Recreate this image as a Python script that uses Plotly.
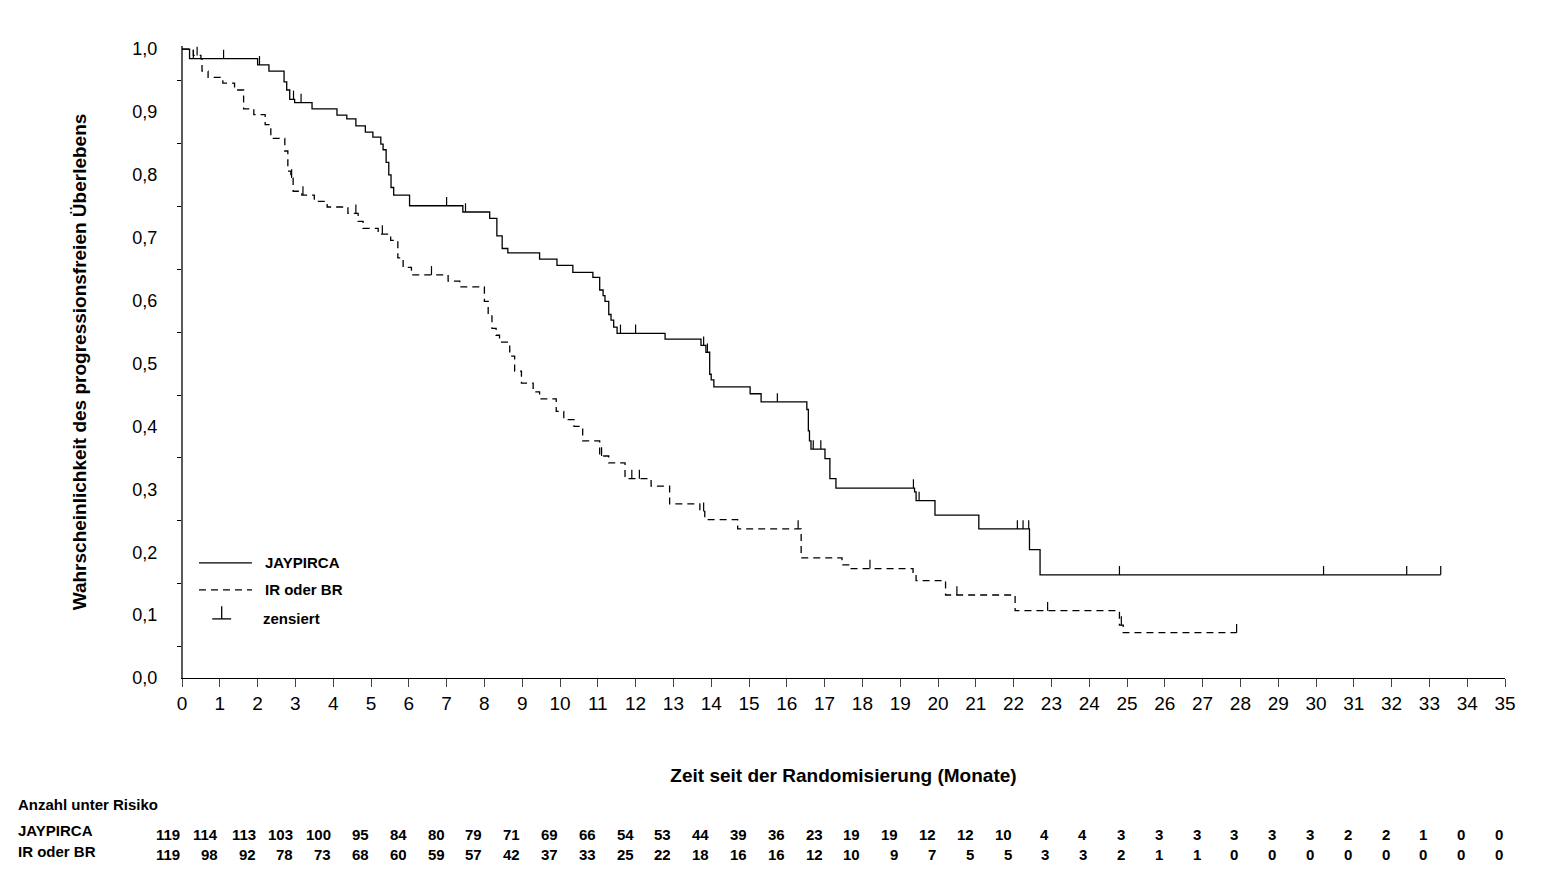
import plotly.graph_objects as go
import numpy as np

months = list(range(0, 36))
jay_t = [0, 0.2, 2.0, 2.3, 2.7, 2.77, 2.85, 2.98, 3.44, 4.1, 4.36, 4.6, 4.85, 5.05, 5.26, 5.32, 5.4, 5.47, 5.53, 5.6, 6.02, 7.43, 8.14, 8.33, 8.47, 8.62,
         9.46, 9.92, 10.34, 10.87, 11.05, 11.14, 11.19, 11.29, 11.35, 11.42, 11.51, 12.78, 13.73, 13.86, 13.96, 14.0, 14.07, 15.03, 15.32,
         16.53, 16.57, 16.6, 16.64, 17.01, 17.14, 17.3, 19.38, 19.42, 19.92, 21.08, 22.42, 22.7, 33.3]
jay_s = [1.0, 0.985, 0.975, 0.965, 0.948, 0.935, 0.92, 0.915, 0.905, 0.895, 0.889, 0.878, 0.868, 0.86, 0.849, 0.84, 0.82, 0.80, 0.78, 0.768, 0.751, 0.741, 0.731, 0.703, 0.683, 0.676,
         0.666, 0.656, 0.645, 0.637, 0.617, 0.608, 0.599, 0.578, 0.569, 0.558, 0.548, 0.539, 0.529, 0.518, 0.483, 0.474, 0.463, 0.452, 0.439,
         0.427, 0.393, 0.377, 0.364, 0.349, 0.317, 0.302, 0.296, 0.282, 0.259, 0.237, 0.204, 0.164, 0.164]
jay_cens = [0.3, 1.1, 2.05, 2.95, 3.15, 7.0, 7.5, 11.6, 12.0, 13.8, 13.9, 15.75, 16.7, 16.9, 19.35, 19.5, 22.1, 22.25, 22.4, 24.8, 30.2, 32.4, 33.3]

ir_t = [0, 0.3, 0.5, 0.53, 0.69, 1.08, 1.39, 1.63, 1.9, 2.2, 2.35, 2.72, 2.8, 2.88, 2.94, 3.17, 3.5, 3.84, 4.39, 4.66, 4.79, 5.19, 5.52, 5.71, 5.85, 6.07,
        7.04, 7.35, 8.0, 8.1, 8.2, 8.31, 8.4, 8.67, 8.8, 8.98, 9.29, 9.46, 9.9, 10.1, 10.37, 10.6, 11.05, 11.29, 11.72, 12.41, 12.9, 13.7, 13.83, 14.7,
        16.38, 17.46, 17.66, 19.34, 19.42, 20.2, 22.04, 24.8, 24.9, 27.9]
ir_s = [1.0, 0.99, 0.985, 0.965, 0.955, 0.946, 0.935, 0.905, 0.896, 0.88, 0.858, 0.838, 0.806, 0.795, 0.774, 0.768, 0.758, 0.749, 0.739, 0.726, 0.715, 0.706, 0.696, 0.668, 0.653, 0.641,
        0.631, 0.622, 0.599, 0.578, 0.556, 0.545, 0.534, 0.512, 0.488, 0.469, 0.455, 0.444, 0.424, 0.411, 0.40, 0.377, 0.353, 0.342, 0.317, 0.305, 0.277, 0.265, 0.252, 0.237,
        0.191, 0.18, 0.174, 0.164, 0.155, 0.132, 0.107, 0.084, 0.072, 0.072]
ir_cens = [0.4, 2.9, 3.2, 4.6, 5.3, 6.6, 11.1, 11.9, 12.1, 13.8, 16.3, 18.2, 20.5, 22.9, 24.85, 27.9]

risk_jay = [119, 114, 113, 103, 100, 95, 84, 80, 79, 71, 69, 66, 54, 53, 44, 39, 36, 23, 19, 19, 12, 12, 10, 4, 4, 3, 3, 3, 3, 3, 3, 2, 2, 1, 0, 0]
risk_ir = [119, 98, 92, 78, 73, 68, 60, 59, 57, 42, 37, 33, 25, 22, 18, 16, 16, 12, 10, 9, 7, 5, 5, 3, 3, 2, 1, 1, 0, 0, 0, 0, 0, 0, 0, 0]


def step_at(ts, ss, x):
    i = np.searchsorted(ts, x, side="right") - 1
    return ss[max(i, 0)]


fig = go.Figure()
fig.add_trace(go.Scatter(x=jay_t, y=jay_s, mode="lines", line=dict(shape="hv", color="black", width=1.3), showlegend=False))
fig.add_trace(go.Scatter(x=ir_t, y=ir_s, mode="lines", line=dict(shape="hv", color="black", width=1.3, dash="7px,5px"), showlegend=False))
for ct, ts, ss in [(jay_cens, jay_t, jay_s), (ir_cens, ir_t, ir_s)]:
    ys = [step_at(ts, ss, c) for c in ct]
    fig.add_trace(go.Scatter(x=ct, y=ys, mode="markers", marker=dict(size=0.1, color="black"),
                             error_y=dict(type="data", symmetric=False, array=[0.014] * len(ct), arrayminus=[0] * len(ct),
                                          width=0, color="black", thickness=1.2), showlegend=False))

# legend
fig.add_shape(type="line", x0=0.45, x1=1.85, y0=0.183, y1=0.183, line=dict(color="black", width=1.3))
fig.add_shape(type="line", x0=0.45, x1=1.85, y0=0.14, y1=0.14, line=dict(color="black", width=1.3, dash="7px,5px"))
fig.add_shape(type="line", x0=0.8, x1=1.3, y0=0.094, y1=0.094, line=dict(color="black", width=1.3))
fig.add_shape(type="line", x0=1.05, x1=1.05, y0=0.094, y1=0.114, line=dict(color="black", width=1.3))
for yy, txt, xx in [(0.183, "<b>JAYPIRCA</b>", 2.15), (0.14, "<b>IR oder BR</b>", 2.15), (0.094, "<b>zensiert</b>", 2.1)]:
    fig.add_annotation(x=xx, y=yy, text=txt, showarrow=False, xanchor="left", font=dict(size=15, color="black"))

H = 629
def py(p):
    return (670 - p) / H

fig.add_annotation(xref="paper", yref="paper", x=-0.1255, y=py(806), text="<b>Anzahl unter Risiko</b>", showarrow=False, xanchor="left", font=dict(size=15))
fig.add_annotation(xref="paper", yref="paper", x=-0.1255, y=py(832), text="<b>JAYPIRCA</b>", showarrow=False, xanchor="left", font=dict(size=15))
fig.add_annotation(xref="paper", yref="paper", x=-0.1255, y=py(853), text="<b>IR oder BR</b>", showarrow=False, xanchor="left", font=dict(size=15))
for m, a, b in zip(months, risk_jay, risk_ir):
    fig.add_annotation(x=(m + 0) / 35, xref="paper", yref="paper", y=py(836), text=f"<b>{a}</b>", showarrow=False, xanchor="right", font=dict(size=15))
    fig.add_annotation(x=(m + 0) / 35, xref="paper", yref="paper", y=py(856), text=f"<b>{b}</b>", showarrow=False, xanchor="right", font=dict(size=15))

fig.update_layout(
    width=1546, height=889, plot_bgcolor="white", paper_bgcolor="white",
    margin=dict(l=174, r=49, t=38, b=219, autoexpand=False),
    font=dict(family="Liberation Sans, Arial", color="black"),
    separators=",.",
    xaxis=dict(range=[0, 35], tickvals=months, ticks="outside", ticklen=8, showgrid=False, zeroline=False, automargin=False,
               showline=True, linecolor="black", linewidth=1.3, tickfont=dict(size=19),
               title=dict(text="<b>Zeit seit der Randomisierung (Monate)</b>", font=dict(size=19), standoff=55)),
    yaxis=dict(range=[0, 1.005], tickvals=[i / 10 for i in range(11)], tickformat=".1f", ticks="outside", ticklen=20,
               showgrid=False, zeroline=False, showline=True, linecolor="white", linewidth=0, tickcolor="white", automargin=False, tickfont=dict(size=18),
               minor=dict(tickvals=[i / 20 for i in range(0, 21)], ticks="outside", ticklen=4, tickcolor="black"),
               title=dict(text="<b>Wahrscheinlichkeit des progressionsfreien Überlebens</b>", font=dict(size=19), standoff=40)),
)
fig.add_shape(type="line", xref="paper", yref="paper", x0=0, x1=0, y0=0, y1=1, line=dict(color="black", width=1.3))
fig.write_html("out.html")
